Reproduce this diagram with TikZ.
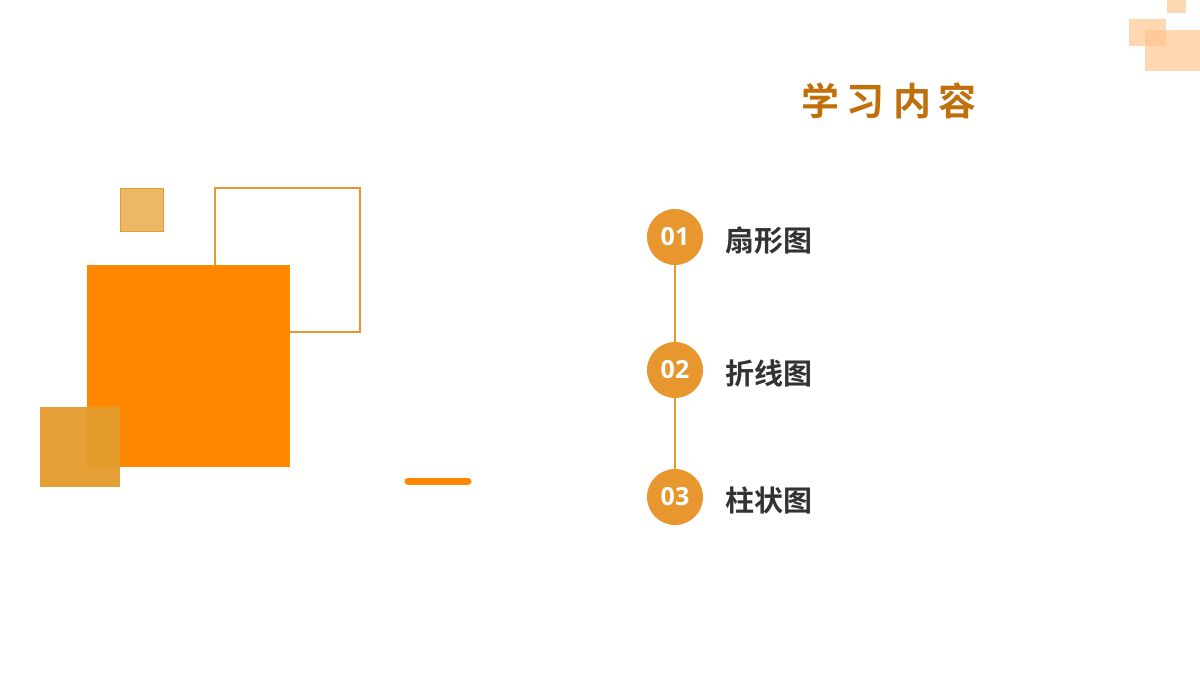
\documentclass[tikz,border=0pt]{standalone}
\usepackage{fontspec}
\newfontfamily\cjk{Noto Sans CJK SC}[BoldFont={* Bold}]
\setsansfont{Open Sans}
\definecolor{orA}{HTML}{FF8800}
\definecolor{orB}{HTML}{E8962E}
\definecolor{orC}{HTML}{EDB865}
\definecolor{orD}{HTML}{E39B2D}
\definecolor{lt}{HTML}{FFC48A}
\definecolor{ttl}{HTML}{C0700A}
\definecolor{txt}{HTML}{333333}
\tikzset{
 num/.style={circle,fill=orB,minimum size=56pt,inner sep=0pt,text=white,font=\sffamily\bfseries\fontsize{25}{25}\selectfont},
 item/.style={anchor=west,text=txt,font=\cjk\bfseries\fontsize{29}{29}\selectfont},
 lsq/.style={fill=lt,fill opacity=0.65}
}
\begin{document}
\begin{tikzpicture}[x=1pt,y=-1pt]
\useasboundingbox[fill=white] (0,0) rectangle (1200,675);
% top-right squares
\fill[lsq] (1167,0) rectangle (1186,13);
\fill[lsq] (1129,19) rectangle (1166,46);
\fill[lsq] (1145,30) rectangle (1200,71);
% left composition
\draw[orB,line width=1.2pt] (215,188) rectangle (360,332);
\fill[orA] (87,265) rectangle (290,467);
\draw[orD,fill=orC] (120,188) rectangle (163,231);
\fill[orD,fill opacity=0.95] (40,407) rectangle (120,487);
\draw[orA,line width=7pt,line cap=round] (408,481) -- (468,481);
% title
\node[text=ttl,font=\cjk\bfseries\fontsize{38}{38}\selectfont] (t) at (889,101) {学\hspace{8pt}习\hspace{8pt}内\hspace{8pt}容};
% items
\node[num] (c1) at (675,237) {01};
\node[num] (c2) at (675,370) {02};
\node[num] (c3) at (675,497) {03};
\draw[orB,line width=1.5pt] (c1) -- (c2) (c2) -- (c3);
\node[item] (i1) at (722,240) {扇形图};
\node[item] (i2) at (722,373) {折线图};
\node[item] (i3) at (722,500) {柱状图};
\end{tikzpicture}
\end{document}
